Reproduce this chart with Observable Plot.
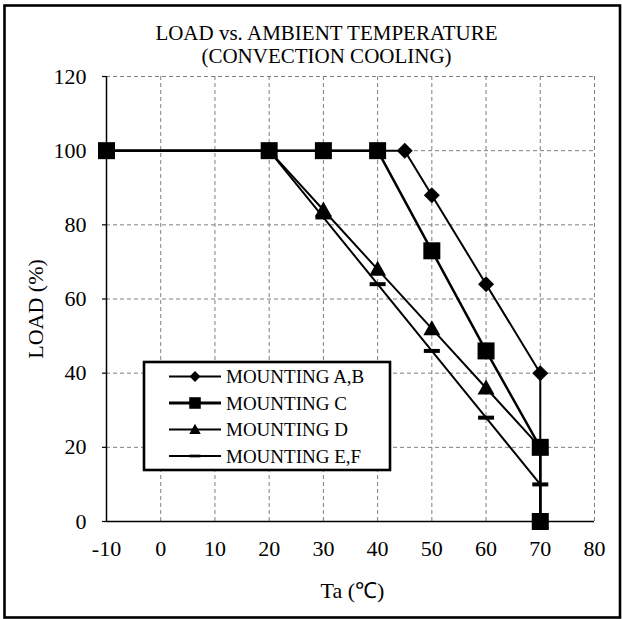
<!DOCTYPE html>
<html><head><meta charset="utf-8">
<script src="https://cdn.jsdelivr.net/npm/d3@7"></script>
<script src="https://cdn.jsdelivr.net/npm/@observablehq/plot@0.6"></script>
<style>
body{margin:0;background:#fff}
#chart{position:relative;width:622px;height:619px}
</style>
</head><body><div id="chart"></div>
<script>
// ---- data ----
const titleLines = ["LOAD vs. AMBIENT TEMPERATURE", "(CONVECTION COOLING)"];
const xLabel = "Ta (\u2103)";
const yLabel = "LOAD (%)";
const xTicks = [-10, 0, 10, 20, 30, 40, 50, 60, 70, 80];
const yTicks = [0, 20, 40, 60, 80, 100, 120];
const seriesNames = ["MOUNTING A,B", "MOUNTING C", "MOUNTING D", "MOUNTING E,F"];
const taAB = [-10, 20, 45, 50, 60, 70, 70];
const loadAB = [100, 100, 100, 88, 64, 40, 0];
const taC = [-10, 20, 30, 40, 50, 60, 70, 70];
const loadC = [100, 100, 100, 100, 73, 46, 20, 0];
const taD = [-10, 20, 30, 40, 50, 60, 70, 70];
const loadD = [100, 100, 84, 68, 52, 36, 20, 0];
const taEF = [-10, 20, 30, 40, 50, 60, 70, 70];
const loadEF = [100, 100, 82, 64, 46, 28, 10, 0];

const toRows = (ta, load) => ta.map((t, i) => ({ta: t, load: load[i]}));
const dAB = toRows(taAB, loadAB), dC = toRows(taC, loadC), dD = toRows(taD, loadD), dEF = toRows(taEF, loadEF);

// ---- custom marker shapes ----
function makeSym(kind, k) {
  return {draw(ctx) {
    if (kind === "diamond") { const s = 8 * k; ctx.moveTo(0, -s); ctx.lineTo(s, 0); ctx.lineTo(0, s); ctx.lineTo(-s, 0); ctx.closePath(); }
    else if (kind === "square") { const s = 8.5 * k; ctx.rect(-s, -s, 2 * s, 2 * s); }
    else if (kind === "triangle") { const w = 8.5 * k; ctx.moveTo(0, -8.5 * k); ctx.lineTo(w, 6.5 * k); ctx.lineTo(-w, 6.5 * k); ctx.closePath(); }
    else { ctx.rect(-8 * k, -2 * k, 16 * k, 4 * k); }
  }};
}
const kinds = ["diamond", "square", "triangle", "dash"];
const widths = [2, 2.5, 2, 2];
const grid = {stroke: "#7f7f7f", strokeOpacity: 1, strokeWidth: 1, strokeDasharray: "4,3"};
const font = "'Liberation Serif','Times New Roman',serif";
const fmt = d => String(d);

const chart = Plot.plot({
  width: 622, height: 619,
  marginLeft: 106, marginRight: 28, marginTop: 76, marginBottom: 98,
  style: {fontFamily: font, fontSize: "22px", color: "black", background: "white"},
  x: {domain: [-10, 80]},
  y: {domain: [0, 120]},
  marks: [
    Plot.gridX(xTicks.filter(t => t > -10), grid),
    Plot.gridY(yTicks.filter(t => t > 0), grid),
    Plot.ruleX([-10], {stroke: "black", strokeWidth: 1.5}),
    Plot.ruleY([0], {stroke: "black", strokeWidth: 1.5}),
    Plot.axisY(yTicks, {tickSize: 4, tickPadding: 16, label: null, strokeWidth: 1.2, tickFormat: fmt, fontSize: 22, fontFamily: font}),
    Plot.axisX(xTicks, {tickSize: 0, tickPadding: 19, label: null, tickFormat: fmt, fontSize: 22, fontFamily: font}),
    Plot.text([titleLines.join("\n")], {frameAnchor: "top", lineAnchor: "middle", textAnchor: "middle", lineHeight: 1.1, dy: -32, dx: -24, fontSize: 21, fontFamily: font}),
    Plot.text([yLabel], {frameAnchor: "left", lineAnchor: "middle", textAnchor: "middle", dx: -71, dy: 10, rotate: -90, fontSize: 22, fontFamily: font}),
    Plot.text([xLabel], {frameAnchor: "bottom", lineAnchor: "middle", textAnchor: "middle", dx: 2, dy: 69, fontSize: 22, fontFamily: font}),
    Plot.line(dEF, {x: "ta", y: "load", stroke: "black", strokeWidth: widths[3]}),
    Plot.dot(dEF, {x: "ta", y: "load", symbol: makeSym("dash", 1), fill: "black", stroke: "none", r: 5}),
    Plot.line(dD, {x: "ta", y: "load", stroke: "black", strokeWidth: widths[2]}),
    Plot.dot(dD, {x: "ta", y: "load", symbol: makeSym("triangle", 1), fill: "black", stroke: "none", r: 5}),
    Plot.line(dAB, {x: "ta", y: "load", stroke: "black", strokeWidth: widths[0]}),
    Plot.dot(dAB, {x: "ta", y: "load", symbol: makeSym("diamond", 1), fill: "black", stroke: "none", r: 5}),
    Plot.line(dC, {x: "ta", y: "load", stroke: "black", strokeWidth: widths[1]}),
    Plot.dot(dC, {x: "ta", y: "load", symbol: makeSym("square", 1), fill: "black", stroke: "none", r: 5})
  ]
});

const svg = d3.select(chart);
// outer border
svg.append("rect").attr("x", 4.5).attr("y", 5.5).attr("width", 615.5).attr("height", 612)
  .attr("fill", "none").attr("stroke", "black").attr("stroke-width", 2.6);
// legend
const lg = svg.append("g").attr("transform", "translate(144,362)");
lg.append("rect").attr("width", 246).attr("height", 108).attr("fill", "white")
  .attr("stroke", "black").attr("stroke-width", 2.6);
seriesNames.forEach((name, i) => {
  const cy = 14.5 + i * 26.5;
  lg.append("line").attr("x1", 25).attr("x2", 77).attr("y1", cy).attr("y2", cy)
    .attr("stroke", "black").attr("stroke-width", i === 1 ? 3 : 2);
  lg.append("path").attr("d", d3.symbol(makeSym(kinds[i], 0.68))()).attr("transform", `translate(51,${cy})`).attr("fill", "black");
  lg.append("text").attr("x", 82).attr("y", cy).attr("dy", "0.35em").attr("font-size", 19)
    .attr("text-anchor", "start").attr("font-family", font).attr("fill", "black").text(name);
});

document.getElementById("chart").appendChild(chart);
</script></body></html>
